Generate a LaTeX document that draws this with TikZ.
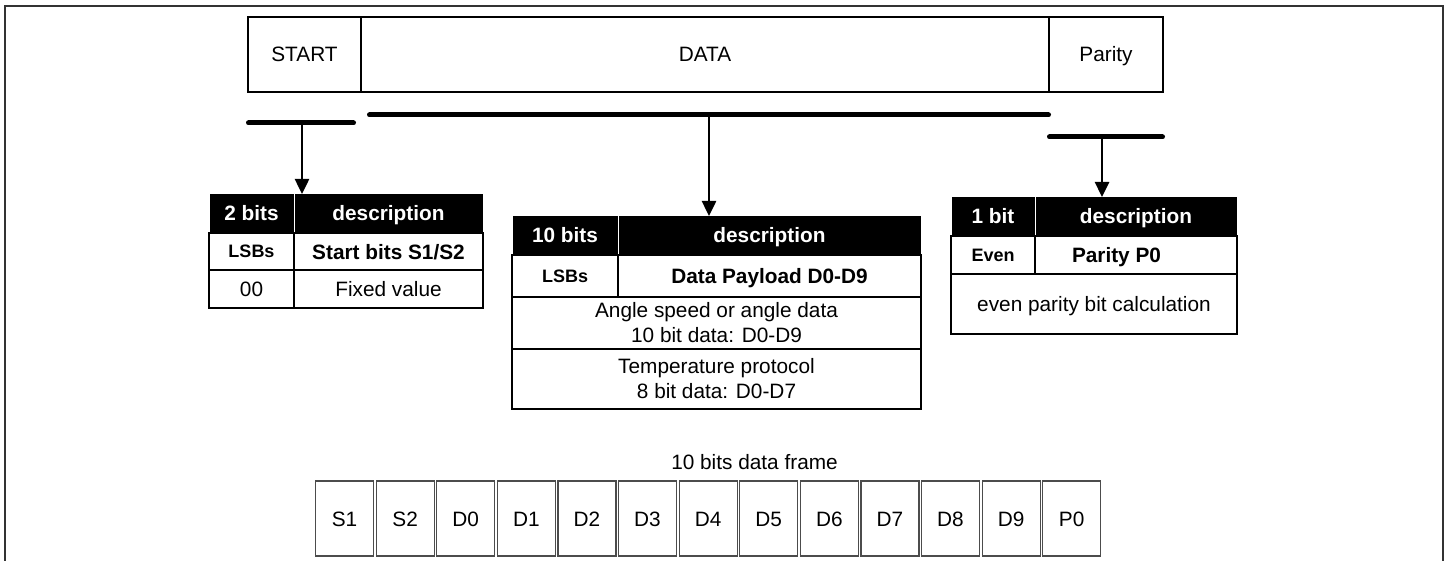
\documentclass[tikz,border=0pt]{standalone}
\usepackage{fontspec}
\setmainfont{Liberation Sans}
\usetikzlibrary{arrows.meta,positioning}

\begin{document}
\begin{tikzpicture}[x=1pt, y=-1pt,
    cell/.style={draw, line width=1.5pt, inner sep=0pt, outer sep=0pt, align=center,
        font=\fontsize{20.8}{25}\selectfont},
    oneline/.style={text height=15pt, text depth=0pt},
    headcell/.style={cell, oneline, fill=black, draw=white, line width=1pt, text=white,
        font=\fontsize{20.8}{25}\selectfont\bfseries},
    keycell/.style={cell, text height=13pt, text depth=0pt, font=\fontsize{18}{22}\selectfont\bfseries},
    titlecell/.style={cell, oneline, font=\fontsize{20.8}{25}\selectfont\bfseries},
    bitcell/.style={draw=black!70, line width=1.2pt, inner sep=0pt, outer sep=0pt, oneline,
        minimum width=58pt, minimum height=75pt, font=\fontsize{20.8}{25}\selectfont},
    bar/.style={line width=5pt, line cap=round},
    pointer/.style={line width=2.5pt, -{Triangle[length=15pt,width=14pt]}}]
    \useasboundingbox (0,0) rectangle (1450,561);

    % Outer frame
    \draw[line width=1.5pt, black!80] (5,561) -- (5,6) -- (1443,6) -- (1443,561);

    % Frame overview
    \node[cell, oneline, minimum width=113pt, minimum height=75pt] (start) at (304.5,54.5) {START};
    \node[cell, oneline, minimum width=688pt, minimum height=75pt] (data) at (705,54.5) {DATA};
    \node[cell, oneline, minimum width=114pt, minimum height=75pt] (parity) at (1106,54.5) {Parity};

    % Brackets under the fields
    \draw[bar] (248.5,123) -- (353.5,123);
    \draw[bar] (369.5,115) -- (1048.5,115);
    \draw[bar] (1049.5,137) -- (1162.5,137);
    \coordinate (startmid) at (302,123);
    \coordinate (datamid) at (709,115);
    \coordinate (paritymid) at (1102,137);

    % Start bits table
    \node[headcell, minimum width=85pt, minimum height=39pt] (bits2) at (251.5,213.5) {2 bits};
    \node[headcell, minimum width=189pt, minimum height=39pt] (desc2) at (388.5,213.5) {description};
    \node[keycell, minimum width=85pt, minimum height=37pt] (lsb2) at (251.5,251.5) {LSBs};
    \node[titlecell, minimum width=189pt, minimum height=37pt] (name2) at (388.5,251.5) {Start bits S1/S2};
    \node[cell, oneline, minimum width=85pt, minimum height=38pt] (val2) at (251.5,289) {00};
    \node[cell, oneline, minimum width=189pt, minimum height=38pt] (fix2) at (388.5,289) {Fixed value};

    % Data table
    \node[headcell, minimum width=106pt, minimum height=39pt] (bits10) at (565,235.5) {10 bits};
    \node[headcell, minimum width=303pt, minimum height=39pt] (desc10) at (769.5,235.5) {description};
    \node[keycell, minimum width=106pt, minimum height=42pt] (lsb10) at (565,276) {LSBs};
    \node[titlecell, minimum width=303pt, minimum height=42pt] (name10) at (769.5,276) {Data Payload D0-D9};
    \node[cell, minimum width=409pt, minimum height=52pt] (angle10) at (716.5,323) {Angle speed or angle data\\10 bit data: D0-D9};
    \node[cell, minimum width=409pt, minimum height=60pt] (temp10) at (716.5,379) {Temperature protocol\\8 bit data: D0-D7};

    % Parity table
    \node[headcell, minimum width=84pt, minimum height=39pt] (bits1) at (993,216.5) {1 bit};
    \node[headcell, minimum width=202pt, minimum height=39pt] (desc1) at (1136,216.5) {description};
    \node[keycell, minimum width=84pt, minimum height=38pt] (even1) at (993,255) {Even};
    \node[titlecell, minimum width=202pt, minimum height=38pt] (name1) at (1136,255) {\hspace*{-39pt}Parity P0};
    \node[cell, oneline, minimum width=286pt, minimum height=60pt] (calc1) at (1094,304) {even parity bit calculation};

    % Arrows
    \draw[pointer] (startmid) -- (startmid |- bits2.north);
    \draw[pointer] (datamid) -- (datamid |- desc10.north);
    \draw[pointer] (paritymid) -- (paritymid |- desc1.north);

    % Bit frame
    \node[font=\fontsize{20.8}{25}\selectfont] (framelbl) at (754.5,462) {10 bits data frame};
    \foreach \lbl [count=\i from 0] in {S1,S2,D0,D1,D2,D3,D4,D5,D6,D7,D8,D9,P0} {
        \node[bitcell] (bit\lbl) at ({344.5+60.6*\i},518.5) {\lbl};
    }
\end{tikzpicture}
\end{document}
